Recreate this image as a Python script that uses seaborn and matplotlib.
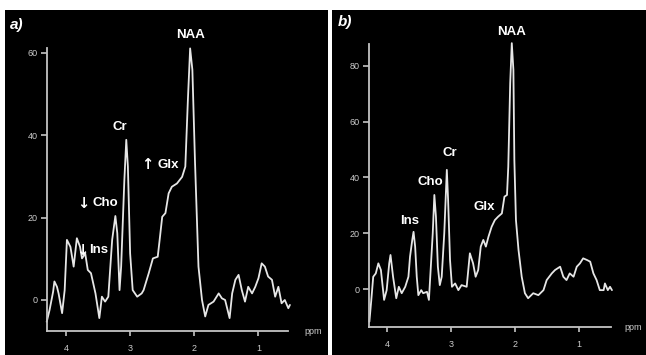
import matplotlib
matplotlib.use("Agg")
import matplotlib.pyplot as plt
import seaborn as sns
import pandas as pd

# ---------------- data ----------------
ppm_a = [4.30, 4.255, 4.20, 4.18, 4.14, 4.115, 4.06, 4.02, 3.985, 3.93, 3.88, 3.83,
         3.78, 3.75, 3.70, 3.66, 3.61, 3.54, 3.48, 3.44, 3.39, 3.34, 3.28, 3.23,
         3.20, 3.165, 3.14, 3.09, 3.06, 3.035, 3.00, 2.96, 2.89, 2.82, 2.79, 2.71,
         2.645, 2.57, 2.54, 2.50, 2.45, 2.40, 2.35, 2.27, 2.19, 2.14, 2.10, 2.065,
         2.03, 1.99, 1.935, 1.88, 1.83, 1.78, 1.70, 1.62, 1.57, 1.52, 1.45, 1.41,
         1.36, 1.31, 1.26, 1.21, 1.16, 1.10, 1.05, 1.00, 0.95, 0.90, 0.85, 0.79,
         0.74, 0.69, 0.64, 0.59, 0.535, 0.51]
val_a = [-5.3, -2.4, 2.0, 4.5, 3.2, 1.6, -3.2, 2.4, 14.6, 12.9, 8.1, 15.0,
         12.9, 10.1, 11.3, 7.3, 6.5, 1.6, -4.4, 0.8, -0.4, 0.8, 14.6, 20.4,
         16.2, 2.4, 8.1, 29.1, 38.9, 32.4, 11.3, 2.4, 0.8, 1.6, 2.4, 6.5,
         10.1, 10.5, 14.6, 20.2, 21.1, 25.9, 27.5, 28.3, 29.9, 32.4, 48.6, 61.1,
         55.9, 34.0, 8.1, 0.0, -4.0, -1.2, -0.4, 1.6, 0.4, 0.0, -4.4, 1.6,
         4.9, 6.1, 2.4, -0.4, 3.2, 1.6, 3.2, 5.3, 8.9, 8.1, 5.7, 4.9,
         0.8, 3.2, -0.8, 0.0, -2.0, -1.2]

ppm_b = [4.28, 4.25, 4.22, 4.18, 4.14, 4.10, 4.05, 4.01, 3.97, 3.95, 3.91, 3.86,
         3.82, 3.775, 3.72, 3.67, 3.645, 3.61, 3.59, 3.565, 3.54, 3.515, 3.47, 3.44,
         3.38, 3.35, 3.32, 3.29, 3.265, 3.24, 3.21, 3.18, 3.15, 3.11, 3.07, 3.05,
         3.02, 2.99, 2.94, 2.89, 2.84, 2.76, 2.71, 2.66, 2.62, 2.58, 2.54, 2.50,
         2.46, 2.42, 2.37, 2.32, 2.27, 2.21, 2.17, 2.13, 2.11, 2.08, 2.055, 2.03,
         2.015, 1.99, 1.95, 1.90, 1.85, 1.80, 1.72, 1.64, 1.56, 1.51, 1.43, 1.38,
         1.30, 1.25, 1.20, 1.15, 1.09, 1.04, 0.99, 0.94, 0.88, 0.83, 0.78, 0.73,
         0.68, 0.62, 0.60, 0.555, 0.52, 0.49]
val_b = [-11.7, -3.9, 4.4, 5.6, 9.2, 6.8, -3.9, -0.4, 9.2, 12.2, 4.4, -3.3,
         0.8, -1.5, 0.8, 4.4, 11.6, 17.6, 20.5, 15.2, 4.4, -2.2, -0.4, -1.5,
         -1.0, -3.9, 8.0, 20.0, 33.7, 25.9, 8.0, 1.4, 4.4, 20.0, 42.7, 31.9,
         10.4, 0.8, 2.0, -0.4, 1.4, 0.8, 12.8, 9.2, 4.4, 6.8, 15.2, 17.6,
         15.2, 18.7, 22.3, 24.7, 25.9, 27.1, 33.1, 33.7, 43.8, 73.7, 88.1, 78.5,
         46.2, 24.7, 14.0, 4.4, -1.5, -3.3, -1.5, -2.2, -0.4, 3.2, 5.6, 6.8,
         8.0, 4.4, 3.2, 5.6, 4.4, 8.0, 9.2, 11.0, 10.4, 9.8, 5.6, 3.2,
         -0.4, -0.4, 2.0, -0.4, 0.8, -0.4]

x_ticks = [4, 3, 2, 1]
y_ticks_a = [0, 20, 40, 60]
y_ticks_b = [0, 20, 40, 60, 80]

labels_a = ["NAA", "Cr", "Glx", "Cho", "Ins"]
label_pos_a = [(2.053, 64.4), (3.154, 42.1), (2.41, 32.8), (3.385, 23.6), (3.49, 12.1)]
arrows_a = ["\u2191", "\u2193", "\u2193"]
arrow_pos_a = [(2.73, 32.9), (3.73, 23.4), (3.74, 12.0)]

labels_b = ["NAA", "Cr", "Cho", "Glx", "Ins"]
label_pos_b = [(2.056, 92.2), (3.02, 48.7), (3.33, 38.5), (2.48, 29.5), (3.645, 24.4)]
arrows_b = []
arrow_pos_b = []

# ---------------- style ----------------
sns.set_style("ticks")
plt.rcParams['font.family'] = ['Liberation Sans', 'DejaVu Sans']

W, H = 646, 355
fig = plt.figure(figsize=(W / 100, H / 100), dpi=100, facecolor="white")

# black panel backgrounds (added first so they sit underneath)
for x0, w in [(5, 323), (332, 314)]:
    bg = fig.add_axes([x0 / W, 0, w / W, 345 / H])
    bg.set_facecolor("black")
    bg.set_xticks([])
    bg.set_yticks([])
    for s in bg.spines.values():
        s.set_visible(False)

line_col = "#e6e6e6"
axis_col = "#c4c4c4"
tick_col = "#cccccc"


def make_panel(rect, ppm, val, xlim, ylim, yticks, labels, lpos, arrows, apos,
               panel_lab, lab_xy, ppm_xy):
    ax = fig.add_axes(rect)
    ax.set_facecolor("none")
    df = pd.DataFrame({"ppm": ppm, "val": val})
    sns.lineplot(data=df, x="ppm", y="val", ax=ax, color=line_col, lw=1.3,
                 sort=False, estimator=None, clip_on=False)
    ax.set_xlim(*xlim)
    ax.set_ylim(*ylim)
    ax.set_xticks(x_ticks)
    ax.set_xticklabels([str(t) for t in x_ticks])
    ax.set_yticks(yticks)
    ax.set_yticklabels([str(t) for t in yticks])
    ax.set_xlabel("")
    ax.set_ylabel("")
    for s in ["top", "right"]:
        ax.spines[s].set_visible(False)
    for s in ["left", "bottom"]:
        ax.spines[s].set_color(axis_col)
        ax.spines[s].set_linewidth(1.3)
    ax.tick_params(axis="both", colors=axis_col, labelcolor=tick_col, labelsize=6.5,
                   width=1.2, direction="out")
    ax.tick_params(axis="y", length=4.5, pad=2)
    ax.tick_params(axis="x", length=3.5, pad=6)
    for t, (x, y) in zip(labels, lpos):
        ax.text(x, y, t, color="white", fontsize=9.5, fontweight="bold",
                ha="center", va="center", clip_on=False)
    for t, (x, y) in zip(arrows, apos):
        ax.text(x, y, t, color="white", fontsize=10.5, fontweight="bold",
                family=["DejaVu Sans"], ha="center", va="center", clip_on=False)
    fig.text(lab_xy[0] / W, 1 - lab_xy[1] / H, panel_lab, color="white", fontsize=11,
             fontweight="bold", fontstyle="italic", ha="center", va="center")
    fig.text(ppm_xy[0] / W, 1 - ppm_xy[1] / H, "ppm", color=tick_col, fontsize=6.5,
             ha="center", va="center")
    return ax


make_panel([46.7 / W, (H - 330.7) / H, (288 - 46.7) / W, (330.7 - 48) / H],
           ppm_a, val_a, (4.30, 0.54), (-7.46, 61.2), y_ticks_a,
           labels_a, label_pos_a, arrows_a, arrow_pos_a, "a)", (16.5, 25), (313, 331))

make_panel([369 / W, (H - 326.7) / H, (611 - 369) / W, (326.7 - 44) / H],
           ppm_b, val_b, (4.286, 0.505), (-13.5, 87.8), y_ticks_b,
           labels_b, label_pos_b, arrows_b, arrow_pos_b, "b)", (345, 22), (633, 327))

fig.savefig("out.png", dpi=100, facecolor="white")
